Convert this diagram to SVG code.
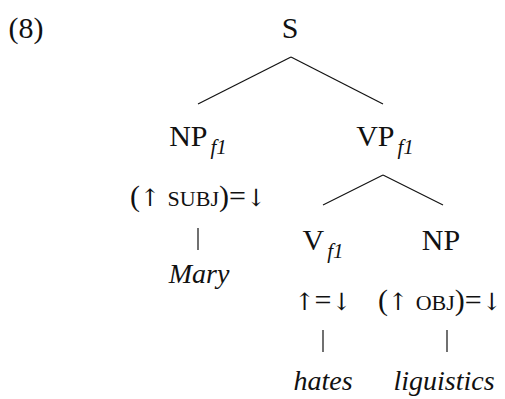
<svg xmlns="http://www.w3.org/2000/svg" width="505" height="399" viewBox="0 0 505 399" font-family="'Liberation Serif', 'Times New Roman', Tinos, 'DejaVu Serif', serif">
<style>
text{font-family:'Liberation Serif','Times New Roman',Tinos,'DejaVu Serif',serif;font-size:30px;fill:#111;text-anchor:middle}
.sub{font-style:italic;font-size:21px}
.sc{font-size:22px}
.ar{font-family:'DejaVu Serif','DejaVu Sans',serif;font-size:24px}
.it2{font-style:italic;font-size:28px}
line{stroke:#111;stroke-width:1.2}
</style>
<rect width="505" height="399" fill="#fff"/>
<text x="26" y="38">(8)</text>
<g id="S"><text x="290" y="38">S</text></g>
<g id="NP1"><text x="198" y="146">NP<tspan class="sub" dy="8" dx="3">f1</tspan></text></g>
<g id="VP"><text x="385" y="146">VP<tspan class="sub" dy="8" dx="3">f1</tspan></text></g>
<g id="subj"><text x="198" y="206">(<tspan class="ar">↑︎</tspan> <tspan class="sc">SUBJ</tspan>)=<tspan class="ar">↓︎</tspan></text></g>
<g id="Mary"><text class="it2" x="199" y="283">Mary</text></g>
<g id="V"><text x="323" y="250">V<tspan class="sub" dy="8" dx="3">f1</tspan></text></g>
<g id="NP2"><text x="441" y="250">NP</text></g>
<g id="eq"><text x="323" y="310"><tspan class="ar">↑︎</tspan>=<tspan class="ar">↓︎</tspan></text></g>
<g id="obj"><text x="440" y="310">(<tspan class="ar">↑︎</tspan> <tspan class="sc">OBJ</tspan>)=<tspan class="ar">↓︎</tspan></text></g>
<g id="hates"><text class="it2" x="323" y="390">hates</text></g>
<g id="ling"><text class="it2" x="444" y="390">liguistics</text></g>
<g id="connectors">
<line x1="291" y1="57" x2="198" y2="104"/>
<line x1="291" y1="57" x2="383" y2="104"/>
<line x1="383" y1="175" x2="323" y2="205"/>
<line x1="383" y1="175" x2="443" y2="205"/>
<line x1="198" y1="228" x2="198" y2="250"/>
<line x1="323" y1="330" x2="323" y2="352"/>
<line x1="447" y1="330" x2="447" y2="352"/>
</g>
</svg>
